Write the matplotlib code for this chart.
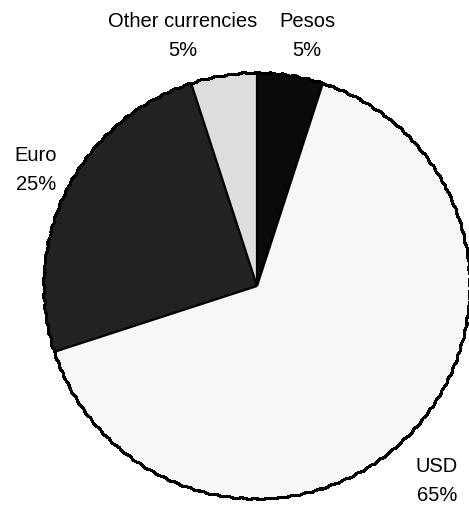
import numpy as np
import matplotlib.pyplot as plt
from matplotlib.patches import Circle

plt.rcParams['font.family'] = ['Liberation Sans', 'DejaVu Sans']

# currency split, clockwise from the top
currencies = ["Pesos", "USD", "Euro", "Other currencies"]
shares = [5, 65, 25, 5]
colors = ["#0a0a0a", "#f7f7f7", "#222222", "#dddddd"]

W, H = 469, 506
cx, cy, r = 257, H - 287, 213

fig = plt.figure(figsize=(W / 100, H / 100), dpi=100)
ax = fig.add_axes([0, 0, 1, 1])

wedges, _ = ax.pie(shares, colors=colors, startangle=90, counterclock=False,
                   center=(cx, cy), radius=r, frame=True,
                   wedgeprops=dict(linewidth=0))

# straight dividers between slices
for w in wedges:
    a = np.deg2rad(w.theta2)
    ax.plot([cx, cx + r * np.cos(a)], [cy, cy + r * np.sin(a)],
            color="black", lw=1.6, solid_capstyle="butt")

# slightly rough outer rim
rim = Circle((cx, cy), r, fill=False, edgecolor="black", lw=1.5,
             antialiased=False)
rim.set_sketch_params(0.6, 14, 2)
ax.add_patch(rim)

ax.set_xlim(0, W)
ax.set_ylim(0, H)
ax.set_aspect("equal")
ax.axis("off")

# label blocks (name over percentage)
label_pos = {
    "Pesos": (307, 36),
    "USD": (437, 481),
    "Euro": (36, 170),
    "Other currencies": (183, 36),
}
for name, pct in zip(currencies, shares):
    x, y = label_pos[name]
    ax.text(x, H - y, f"{name}\n{pct}%", ha="center", va="center",
            fontsize=14.5, linespacing=1.65)

fig.savefig("out.png", dpi=100)
